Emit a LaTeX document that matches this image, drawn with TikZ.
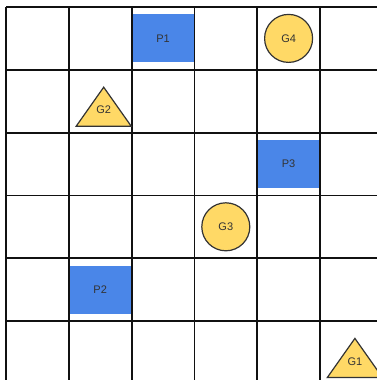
\documentclass[tikz,border=0pt]{standalone}
\usepackage{fontspec}
\setmainfont{Liberation Sans}
\usetikzlibrary{positioning,calc}
\definecolor{ink}{HTML}{111111}
\definecolor{ink2}{HTML}{333333}
\definecolor{pit}{HTML}{4A86E8}
\definecolor{gold}{HTML}{FFD966}
\tikzset{
  cellline/.style={draw=ink, line width=1.8pt},
  pitbox/.style={fill=pit, minimum width=62.8pt, minimum height=48pt, inner sep=0pt,
                 font=\fontsize{11}{13}\selectfont, text=ink2},
  goalcirc/.style={circle, draw=ink2, line width=1.2pt, fill=gold, minimum size=48pt,
                   inner sep=0pt, font=\fontsize{11}{13}\selectfont, text=ink2},
  goaltri/.style={draw=ink2, line width=1.2pt, fill=gold, line join=miter},
  goallbl/.style={inner sep=0pt, font=\fontsize{11}{13}\selectfont, text=ink2},
}

\begin{document}
\begin{tikzpicture}[x=1pt,y=-1pt]
  \useasboundingbox[fill=white] (0,0) rectangle (377,380);
  \clip (0,0) rectangle (377,380);
  % pits
  \node[pitbox] (p1) at (163,38.4) {P1};
  \node[pitbox] (p3) at (288.6,164) {P3};
  \node[pitbox] (p2) at (100.2,289.6) {P2};
  % grid
  \foreach \i in {0,...,6}{
    \draw[cellline] ({6+62.8*\i},7) -- ({6+62.8*\i},390);
    \draw[cellline] (6,{7+62.8*\i}) -- (390,{7+62.8*\i});
  }
  % goals
  \node[goalcirc] (g4) at (288.6,38.4) {G4};
  \node[goalcirc] (g3) at (225.8,226.8) {G3};
  \foreach \name/\cx/\cy in {g2/100.2/101.2, g1/351.4/352.4}{
    \draw[goaltri] (\cx+3.5,\cy-14) -- (\cx+31,\cy+25) -- (\cx-24,\cy+25) -- cycle;
    \node[goallbl] (\name) at (\cx+3.5,\cy+9) {\MakeUppercase{\name}};
  }
\end{tikzpicture}
\end{document}
